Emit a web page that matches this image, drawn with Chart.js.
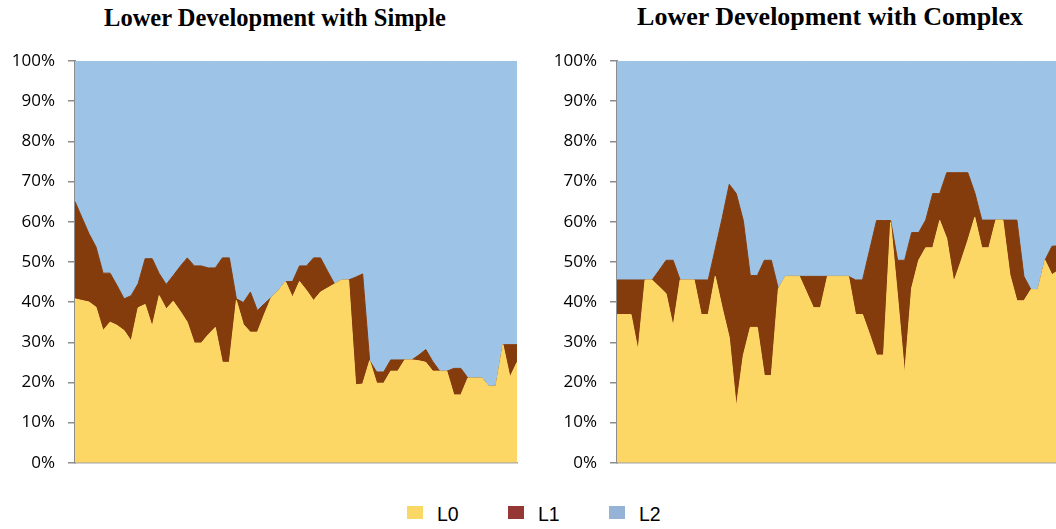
<!DOCTYPE html>
<html lang="en">
<head>
<meta charset="UTF-8">
<title>Lower Development</title>
<script src="https://cdn.jsdelivr.net/npm/chart.js"></script>
<style>
  html, body { margin: 0; padding: 0; background: #fff; overflow: hidden; }
  #page { position: relative; width: 1056px; height: 529px; overflow: hidden; }
  .chart-title {
    position: absolute; top: 6px; width: 550px; text-align: center;
    font-family: "Liberation Serif", "Times New Roman", serif; font-weight: bold;
    line-height: 24px; color: #000; white-space: nowrap;
  }
  canvas { position: absolute; top: 0; }
  .legend-box { position: absolute; top: 506px; width: 16px; height: 13px; }
  .legend-text {
    position: absolute; top: 504px; font: 19.5px "Liberation Sans", Arial, sans-serif;
    line-height: 20px; color: #000;
  }
</style>
</head>
<body>
<div id="page">
  <div class="chart-title" style="left:0px; font-size:24.5px">Lower Development with Simple</div>
  <div class="chart-title" style="left:555px; font-size:26px; top:5px">Lower Development with Complex</div>
  <canvas id="simpleChart" width="530" height="486" style="left:0px"></canvas>
  <canvas id="complexChart" width="530" height="486" style="left:542px"></canvas>
  <div id="legend"></div>
</div>

<script>
// categories along the x axis (no labels shown in the original)
const categories = Array.from({ length: 64 }, (_, i) => String(i + 1));

// Lower Development with Simple (% share per point)
const simpleL0 = [40.8, 40.4, 40.0, 38.7, 32.9, 35.0, 34.2, 32.9, 30.3, 38.6,
  39.4, 33.9, 41.6, 38.3, 40.2, 37.7, 35.0, 29.8, 29.8, 31.9,
  33.7, 25.0, 25.0, 40.4, 34.4, 32.5, 32.5, 37.0, 41.2, 42.9,
  45.1, 41.2, 45.1, 42.9, 40.4, 42.5, 43.5, 44.5, 45.5, 45.5,
  19.4, 19.6, 25.4, 19.8, 19.8, 22.8, 22.8, 25.6, 25.6, 25.4,
  25.0, 22.8, 22.8, 22.8, 16.9, 16.9, 21.1, 21.1, 21.1, 19.0,
  19.1, 29.4, 21.3, 25.0];
const simpleL1 = [24.2, 20.6, 17.0, 15.0, 14.3, 12.2, 9.9, 7.9, 11.3, 6.0,
  11.4, 16.9, 5.5, 6.1, 6.4, 11.2, 16.0, 19.2, 19.2, 16.6,
  14.8, 26.0, 26.0, 0.4, 5.5, 10.0, 5.4, 2.6, 0, 0,
  0, 3.9, 3.9, 6.1, 10.6, 8.5, 4.2, 0, 0, 0,
  26.8, 27.4, 0, 2.8, 2.8, 2.8, 2.8, 0, 0, 1.4,
  3.2, 2.4, 0, 0, 6.6, 6.6, 0, 0, 0, 0,
  0, 0, 8.1, 4.4];
const simpleL2 = [35.0, 39.0, 43.0, 46.3, 52.8, 52.8, 55.9, 59.2, 58.4, 55.4,
  49.2, 49.2, 52.9, 55.6, 53.4, 51.1, 49.0, 51.0, 51.0, 51.5,
  51.5, 49.0, 49.0, 59.2, 60.1, 57.5, 62.1, 60.4, 58.8, 57.1,
  54.9, 54.9, 51.0, 51.0, 49.0, 49.0, 52.3, 55.5, 54.5, 54.5,
  53.8, 53.0, 74.6, 77.4, 77.4, 74.4, 74.4, 74.4, 74.4, 73.2,
  71.8, 74.8, 77.2, 77.2, 76.5, 76.5, 78.9, 78.9, 78.9, 81.0,
  80.9, 70.6, 70.6, 70.6];

// Lower Development with Complex (% share per point)
const complexL0 = [36.9, 36.9, 36.9, 27.9, 45.5, 45.5, 43.8, 42.1, 33.9, 45.5,
  45.5, 45.5, 36.9, 36.9, 46.4, 38.5, 31.2, 13.8, 26.7, 33.7,
  33.7, 21.7, 21.7, 43.3, 46.4, 46.4, 46.4, 42.5, 38.6, 38.6,
  46.4, 46.4, 46.4, 46.4, 36.9, 36.9, 32.0, 26.8, 26.8, 59.8,
  41.2, 22.0, 43.5, 50.4, 53.5, 53.5, 60.3, 55.8, 45.0, 50.0,
  55.3, 61.1, 53.5, 53.5, 60.4, 60.4, 46.8, 40.3, 40.3, 43.1,
  43.1, 50.4, 46.8, 48.0];
const complexL1 = [8.6, 8.6, 8.6, 17.6, 0, 0, 4.1, 8.3, 16.5, 0,
  0, 0, 8.6, 8.6, 6.8, 22.5, 38.1, 53.2, 33.6, 12.9,
  12.9, 28.7, 28.7, 0, 0, 0, 0, 3.9, 7.8, 7.8,
  0, 0, 0, 0, 8.6, 8.6, 20.9, 33.5, 33.5, 0.5,
  9.2, 28.4, 13.8, 6.9, 6.9, 13.5, 6.7, 16.4, 27.2, 22.2,
  16.9, 6.1, 6.9, 6.9, 0, 0, 13.6, 20.1, 6.1, 0,
  0, 0, 7.1, 6.0];
const complexL2 = [54.5, 54.5, 54.5, 54.5, 54.5, 54.5, 52.1, 49.6, 49.6, 54.5,
  54.5, 54.5, 54.5, 54.5, 46.8, 39.0, 30.7, 33.0, 39.7, 53.4,
  53.4, 49.6, 49.6, 56.7, 53.6, 53.6, 53.6, 53.6, 53.6, 53.6,
  53.6, 53.6, 53.6, 53.6, 54.5, 54.5, 47.1, 39.7, 39.7, 39.7,
  49.6, 49.6, 42.7, 42.7, 39.6, 33.0, 33.0, 27.8, 27.8, 27.8,
  27.8, 32.8, 39.6, 39.6, 39.6, 39.6, 39.6, 39.6, 53.6, 56.9,
  56.9, 49.6, 46.1, 46.0];

const seriesNames = ['L0', 'L1', 'L2'];
const areaColors = ['#FDD766', '#843C0C', '#9DC3E6'];
const legendColors = ['#F9D866', '#953735', '#95B3D7'];

function makeChart(id, series) {
  const datasets = series.map((data, i) => ({
    label: seriesNames[i],
    data: data,
    fill: i === 0 ? 'origin' : '-1',
    backgroundColor: areaColors[i],
    borderColor: areaColors[i],
    borderWidth: 1,
    pointRadius: 0,
    pointHoverRadius: 0,
    tension: 0
  }));

  return new Chart(document.getElementById(id), {
    type: 'line',
    data: { labels: categories, datasets: datasets },
    options: {
      responsive: false,
      animation: false,
      layout: { padding: { top: 61, right: 13, bottom: 18, left: 0 } },
      plugins: {
        legend: { display: false },
        tooltip: { enabled: false }
      },
      scales: {
        x: {
          offset: false,
          ticks: { display: false },
          grid: { display: false, drawTicks: false },
          border: { display: true, color: '#a6a6a6', width: 1.5 }
        },
        y: {
          stacked: true,
          min: 0,
          max: 100,
          z: 1,
          ticks: {
            stepSize: 10,
            padding: 13,
            color: '#000',
            font: { family: '"Open Sans"', size: 17 },
            callback: v => v + '%'
          },
          grid: { drawOnChartArea: false, drawTicks: true, tickLength: 7, color: '#8c8c8c', lineWidth: 1.5 },
          border: { display: true, color: '#8c8c8c', width: 2 },
          afterFit: scale => { scale.width = 75; }
        }
      }
    }
  });
}

makeChart('simpleChart', [simpleL0, simpleL1, simpleL2]);
makeChart('complexChart', [complexL0, complexL1, complexL2]);

// legend row under both charts
const legend = document.getElementById('legend');
const legendLeft = [407, 508, 609];
seriesNames.forEach((name, i) => {
  const box = document.createElement('div');
  box.className = 'legend-box';
  box.style.left = legendLeft[i] + 'px';
  box.style.background = legendColors[i];
  legend.appendChild(box);

  const txt = document.createElement('div');
  txt.className = 'legend-text';
  txt.style.left = (legendLeft[i] + 30) + 'px';
  txt.textContent = name;
  legend.appendChild(txt);
});
</script>
</body>
</html>
